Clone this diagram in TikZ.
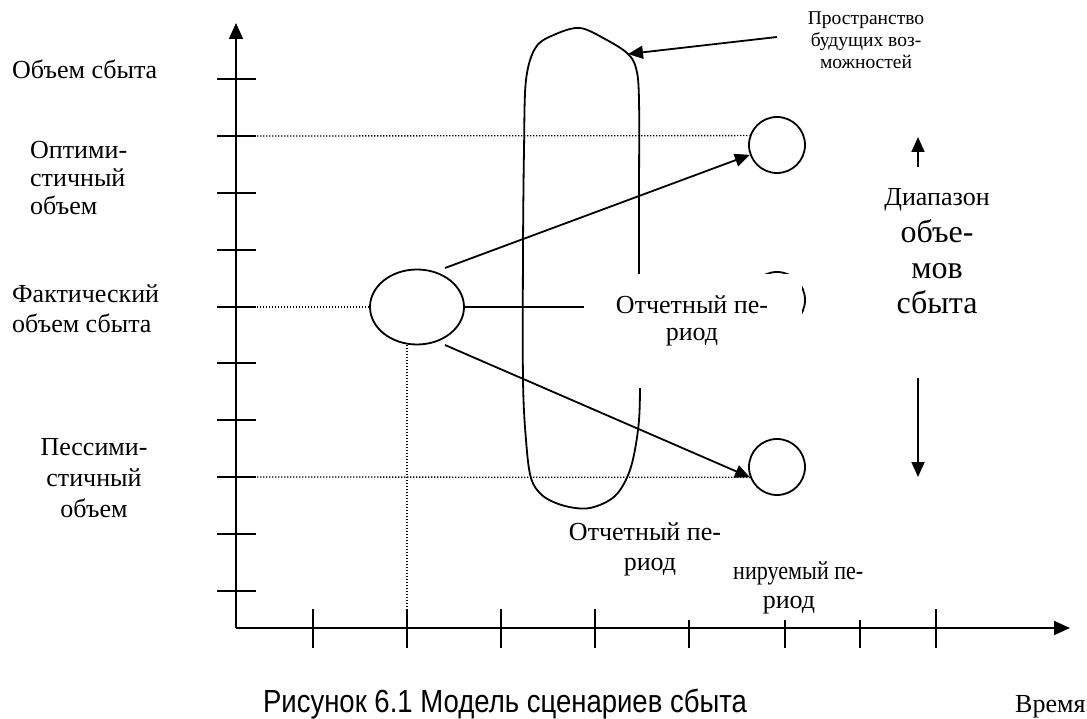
\documentclass[tikz,border=0pt]{standalone}
\usepackage{fontspec}
\setmainfont{Liberation Serif}
\newfontfamily\capfont{Liberation Sans}
\usetikzlibrary{arrows.meta,shapes.geometric}
\begin{document}
\begin{tikzpicture}[x=1pt,y=-1pt,
  ln/.style={line width=1.8pt},
  dot/.style={line width=1.3pt, dash pattern=on 1.3pt off 1.7pt},
  axarr/.style={-{Triangle[length=16pt,width=14pt]}},
  arr/.style={-{Triangle[length=15pt,width=13pt]}},
  lbl/.style={font=\fontsize{26}{30}\selectfont, inner sep=0pt, anchor=base},
  lblw/.style={lbl, anchor=base west},
  sm/.style={font=\fontsize{19.5}{23}\selectfont, inner sep=0pt, anchor=base},
  big/.style={font=\fontsize{32}{36}\selectfont, inner sep=0pt, anchor=base},
  circ/.style={circle, draw, line width=1.8pt, minimum size=56pt, inner sep=0pt},
]
\useasboundingbox (0,0) rectangle (1087,719);

% axes
\coordinate (O) at (236,628);
\coordinate (ytop) at (236,23);
\coordinate (xend) at (1070,628);
\draw[ln, axarr] (O) -- (ytop);
\draw[ln, axarr] (O) -- (xend);
\foreach \y in {79,136,193,250,307,363,420,477,534,591}
  \draw[ln] (217,\y) -- (256,\y);
\foreach \x in {313,407,501,595,936}
  \draw[ln] (\x,609) -- (\x,648);
\foreach \x in {689,785,860}
  \draw[ln] (\x,620) -- (\x,648);

% shapes
\node[ellipse, draw, ln, minimum width=94pt, minimum height=75pt, inner sep=0pt] (ell) at (417,307) {};
\node[circ] (top) at (777,145) {};
\node[circ] (mid) at (777,300) {};
\node[circ] (bot) at (777,467) {};

% dotted guides
\draw[dot] (236,136) -- (top.161);
\draw[dot] (236,307) -- (ell.west);
\draw[dot] (236,477) -- (bot.201);
\draw[dot] (407,628) -- (407,344);

% space of future possibilities
\draw[ln] plot[smooth cycle, tension=0.55] coordinates {
  (580,28) (605,39) (627,53) (636,68) (639,100) (639,200) (639,300)
  (640,388) (638,430) (630,470) (615,496) (590,508) (565,506) (543,496)
  (531,478) (526,440) (523,380) (523,250) (524,150) (526,80) (536,47) (556,34)};

% arrows
\coordinate (u1) at (445,268);
\coordinate (l1) at (445,345);
\draw[ln, arr] (u1) -- (top.200);
\draw[ln, arr] (l1) -- (bot.201);
\coordinate (ps) at (777,37);
\coordinate (pt) at (628,54);
\draw[ln, arr] (ps) -- (pt);
\coordinate (ua) at (918,167);
\coordinate (uat) at (918,137);
\coordinate (da) at (918,378);
\coordinate (dat) at (918,477);
\draw[ln, arr] (ua) -- (uat);
\draw[ln, arr] (da) -- (dat);

% white label box in the middle
\node[fill=white, inner sep=0pt, minimum width=218pt, minimum height=114pt] (wbox) at (693,331) {};
\draw[ln] (ell.east) -- (ell.east -| wbox.west);
\node[lbl] (mt1) at (692,314) {Отчетный пе-};
\node[lbl] (mt2) at (692,341) {риод};

% left labels
\node[lblw] (ys) at (12,79) {Объем сбыта};
\node[lblw] (o1) at (30,159) {Оптими-};
\node[lblw] (o2) at (30,187) {стичный};
\node[lblw] (o3) at (30,215) {объем};
\node[lblw] (f1) at (12,303) {Фактический};
\node[lblw] (f2) at (12,333) {объем сбыта};
\node[lbl] (p1) at (94,455) {Пессими-};
\node[lbl] (p2) at (94,486) {стичный};
\node[lbl] (p3) at (94,517) {объем};

% bottom labels
\node[lbl] (b1) at (645,540) {Отчетный пе-};
\node[lbl] (b2) at (650,570) {риод};
\node[lblw] (n1) at (733,579) {\scalebox{0.85}[1]{нируемый пе-}};
\node[lbl] (n2) at (789,608) {риод};

% top right
\node[sm] (s1) at (866,25) {Пространство};
\node[sm] (s2) at (866,47) {будущих воз-};
\node[sm] (s3) at (866,69) {можностей};

% range
\node[lbl] (r1) at (937,206) {Диапазон};
\node[big] (r2) at (937,243) {объе-};
\node[big] (r3) at (937,279) {мов};
\node[big] (r4) at (937,314) {сбыта};

% caption
\node[font=\capfont\fontsize{32}{36}\selectfont, anchor=base, inner sep=0pt] (cap) at (505,712) {\scalebox{0.86}[1]{Рисунок 6.1 Модель сценариев сбыта}};
\node[lblw] (time) at (1015,712) {Время};
\end{tikzpicture}
\end{document}
